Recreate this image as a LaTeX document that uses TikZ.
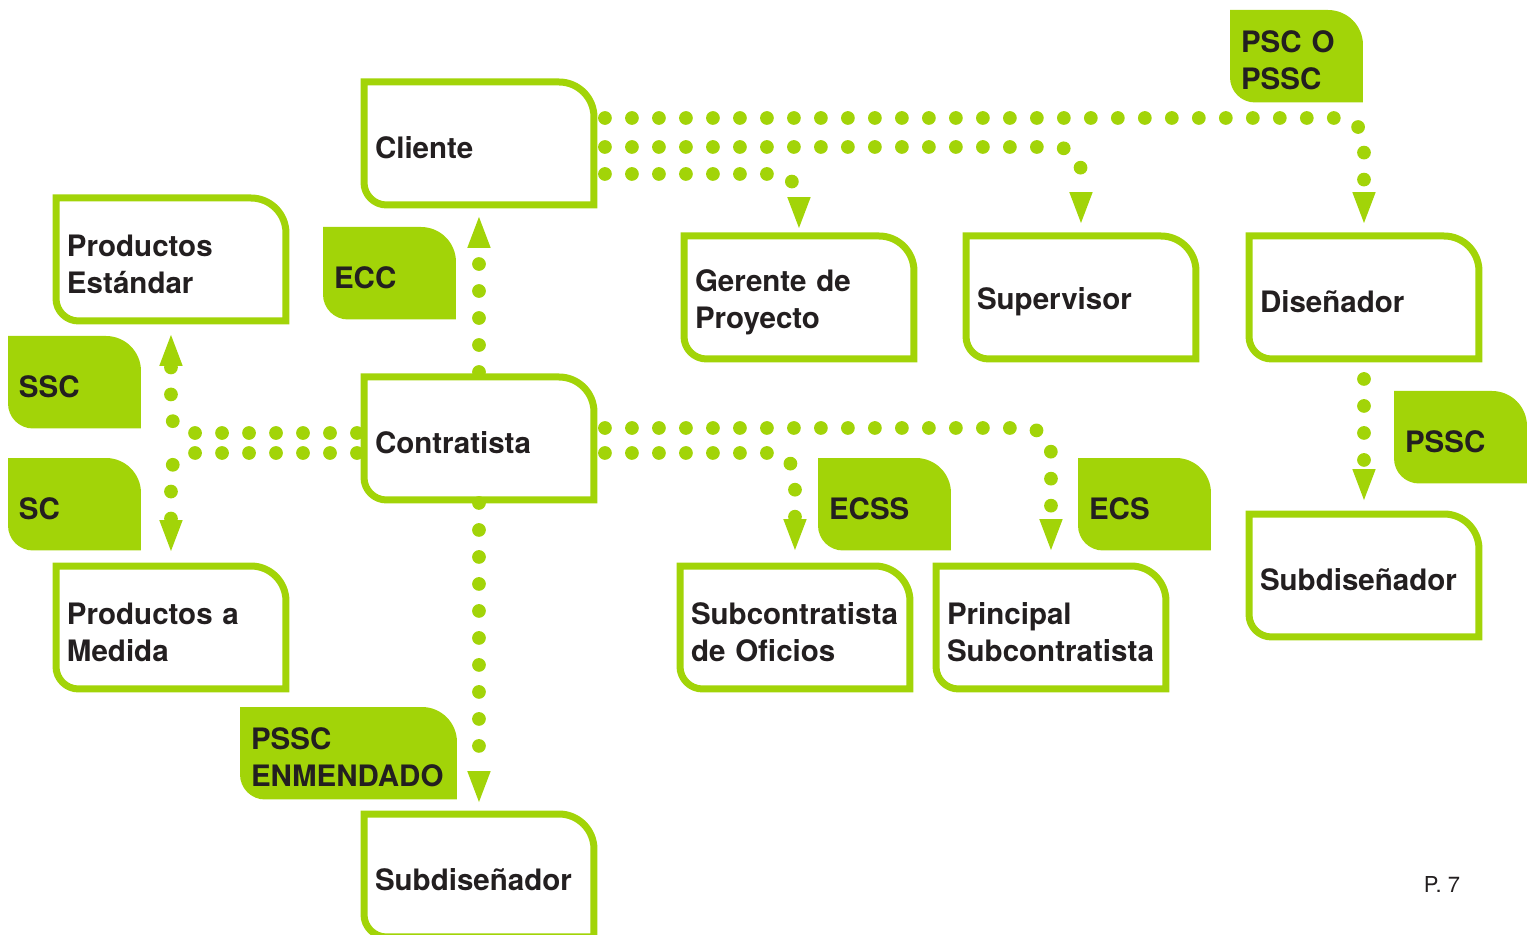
\documentclass[tikz,border=0pt]{standalone}
\usepackage{fontspec}
\setmainfont{TeX Gyre Heros}
\usetikzlibrary{arrows.meta,calc,positioning,backgrounds}
\definecolor{lima}{RGB}{162,212,8}
\definecolor{tinta}{RGB}{35,31,32}

% marco con dos esquinas redondeadas (arriba derecha, abajo izquierda)
\newcommand\marco[3]{(#1.north west) -- ([xshift=-#2]#1.north east)
  arc[start angle=90,end angle=0,radius=#2] -- (#1.south east)
  -- ([xshift=#3]#1.south west) arc[start angle=270,end angle=180,radius=#3] -- cycle}

\tikzset{
  caja/.style={anchor=north west, minimum width=4.6cm, minimum height=2.46cm,
    inner xsep=0.22cm, text width=4.16cm, align=left, outer sep=0pt,
    font=\bfseries\fontsize{16.8}{21}\selectfont, text=tinta,
    execute at begin node={\rule{0pt}{17.5pt}}},
  pestana/.style={anchor=north west, minimum height=1.85cm,
    inner xsep=0.22cm, text width=#1, align=left, outer sep=0pt,
    font=\bfseries\fontsize{16.8}{21}\selectfont, text=tinta,
    execute at begin node={\rule{0pt}{17.5pt}}},
  pestana/.default=2.22cm,
  punteado/.style={draw=lima, line width=0.275cm, line cap=round,
    dash pattern=on 0pt off 0.54cm,
    -{Triangle[length=0.62cm,width=0.47cm,line width=0pt]}},
}

\begin{document}
\begin{tikzpicture}[x=0.02cm,y=-0.02cm]
\useasboundingbox (0,0) rectangle (1527,935);

\node[caja] (cli)  at (364,82)   {Cliente};
\node[caja] (pest) at (56,198)   {Productos\\Estándar};
\node[caja] (con)  at (364,377)  {Contratista};
\node[caja] (ger)  at (684,236)  {Gerente de\\Proyecto};
\node[caja] (sup)  at (966,236)  {Supervisor};
\node[caja] (dis)  at (1249,236) {Diseñador};
\node[caja] (pmed) at (56,566)   {Productos a\\Medida};
\node[caja] (sof)  at (680,566)  {Subcontratista\\de Oficios};
\node[caja] (psub) at (936,566)  {Principal\\Subcontratista};
\node[caja] (sdr)  at (1249,514) {Subdiseñador};
\node[caja] (sdb)  at (364,814)  {Subdiseñador};

\node[pestana] (tpsc)  at (1230,10) {PSC O\\PSSC};
\node[pestana] (tecc)  at (323,227) {ECC};
\node[pestana] (tssc)  at (8,336)   {SSC};
\node[pestana] (tsc)   at (8,458)   {SC};
\node[pestana] (tecss) at (818,458) {ECSS};
\node[pestana] (tecs)  at (1078,458) {ECS};
\node[pestana] (tpssc) at (1394,391) {PSSC};
\node[pestana=3.9cm] (tenm) at (240,707) {PSSC\\ENMENDADO};

\node[font=\fontsize{12.5}{15}\selectfont, text=tinta] (pag) at (1442,884) {P. 7};

% conectores punteados
\draw[punteado, rounded corners=0.5cm, shorten <=0.22cm, shorten >=0.26cm]
  ([yshift=0.51cm]cli.east) -| (dis.north);
\draw[punteado, rounded corners=0.5cm, shorten <=0.22cm, shorten >=0.26cm]
  ([yshift=-0.07cm]cli.east) -| (sup.north);
\draw[punteado, rounded corners=0.5cm, shorten <=0.22cm, shorten >=0.16cm]
  ([yshift=-0.61cm]cli.east) -| (ger.north);
\draw[punteado, shorten >=0.24cm] ([yshift=0.1cm]con.north) -- (cli.south);
\draw[punteado, rounded corners=0.4cm, shorten >=0.28cm]
  ([xshift=-0.14cm,yshift=0.11cm]con.west) -| (pest.south);
\draw[punteado, rounded corners=0.4cm, shorten >=0.3cm]
  ([xshift=-0.14cm,yshift=-0.29cm]con.west) -| (pmed.north);
\draw[punteado, rounded corners=0.5cm, shorten <=0.22cm, shorten >=0.32cm]
  ([yshift=0.21cm]con.east) -| (psub.north);
\draw[punteado, rounded corners=0.5cm, shorten <=0.22cm, shorten >=0.32cm]
  ([yshift=-0.29cm]con.east) -| (sof.north);
\draw[punteado, shorten <=0.06cm, shorten >=0.24cm] (con.south) -- (sdb.north);
\draw[punteado, shorten <=0.4cm, shorten >=0.28cm] (dis.south) -- (sdr.north);

% marcos y pestanas
\foreach \c in {cli,pest,con,ger,sup,dis,pmed,sof,psub,sdr,sdb}
  \draw[lima, line width=0.14cm] \marco{\c}{0.7cm}{0.45cm};
\begin{scope}[on background layer]
\foreach \t in {tpsc,tecc,tssc,tsc,tecss,tecs,tpssc,tenm}
  \fill[lima] \marco{\t}{0.7cm}{0.5cm};
\end{scope}
\end{tikzpicture}
\end{document}
